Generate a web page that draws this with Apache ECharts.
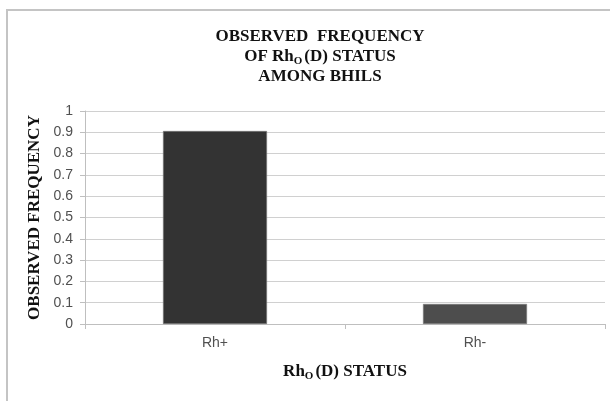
<!DOCTYPE html>
<html>
<head>
<meta charset="utf-8">
<script src="https://cdn.jsdelivr.net/npm/echarts@6/dist/echarts.min.js"></script>
<style>html,body{margin:0;padding:0;background:#fff;}#c{width:610px;height:401px;}</style>
</head>
<body>
<div id="c"></div>
<script>
const categories = ['Rh+', 'Rh-'];
const frequencies = [0.906, 0.094];
const barColors = ['#333333', '#4d4d4d'];
const yTicks = { min: 0, max: 1, interval: 0.1 };

const serif = '"Liberation Serif", "Times New Roman", serif';
const sans = '"Liberation Sans", Arial, sans-serif';

const chart = echarts.init(document.getElementById('c'));
chart.setOption({
  animation: false,
  backgroundColor: '#ffffff',
  graphic: [{
    type: 'rect',
    shape: { x: 7, y: 10, width: 700, height: 500 },
    style: { fill: 'none', stroke: '#c4c4c4', lineWidth: 2 },
    silent: true
  }],
  title: {
    left: 315,
    top: 22,
    textAlign: 'center',
    text: '{b|OBSERVED  FREQUENCY}\n{b|OF Rh}{s|O}{b|(D) STATUS}\n{b|AMONG BHILS}',
    textStyle: {
      rich: {
        b: { fontFamily: serif, fontWeight: 'bold', fontSize: 17, color: '#111', lineHeight: 20 },
        s: { fontFamily: serif, fontWeight: 'bold', fontSize: 11, color: '#111', lineHeight: 12, verticalAlign: 'bottom', padding: [0, 2, 0, 0] }
      }
    }
  },
  grid: { left: 85, right: 5, top: 111, bottom: 77, containLabel: false },
  xAxis: {
    type: 'category',
    data: categories,
    name: '{b|Rh}{s|O}{b|(D) STATUS}',
    nameLocation: 'middle',
    nameGap: 38,
    nameTextStyle: {
      rich: {
        b: { fontFamily: serif, fontWeight: 'bold', fontSize: 17, color: '#111', lineHeight: 20 },
        s: { fontFamily: serif, fontWeight: 'bold', fontSize: 11, color: '#111', lineHeight: 12, verticalAlign: 'bottom', padding: [0, 2, 0, 0] }
      }
    },
    axisLine: { lineStyle: { color: '#bfbfbf', width: 1 } },
    axisTick: { show: true, length: 5, alignWithLabel: false, lineStyle: { color: '#bfbfbf' } },
    axisLabel: { color: '#505050', fontFamily: sans, fontSize: 14, margin: 12 },
    splitLine: { show: false }
  },
  yAxis: {
    type: 'value',
    min: yTicks.min,
    max: yTicks.max,
    interval: yTicks.interval,
    name: 'OBSERVED FREQUENCY',
    nameLocation: 'middle',
    nameRotate: 90,
    nameGap: 42,
    nameTextStyle: { fontFamily: serif, fontWeight: 'bold', fontSize: 17, color: '#111' },
    axisLine: { show: true, lineStyle: { color: '#bfbfbf', width: 1 } },
    axisTick: { show: true, length: 5, lineStyle: { color: '#bfbfbf' } },
    axisLabel: { color: '#505050', fontFamily: sans, fontSize: 14, margin: 12 },
    splitLine: { show: true, lineStyle: { color: '#d0d0d0', width: 1 } }
  },
  series: [{
    type: 'bar',
    barWidth: '40%',
    data: frequencies.map((v, i) => ({ value: v, itemStyle: { color: barColors[i], borderColor: '#7a7a7a', borderWidth: 0.6 } }))
  }]
});
</script>
</body>
</html>
